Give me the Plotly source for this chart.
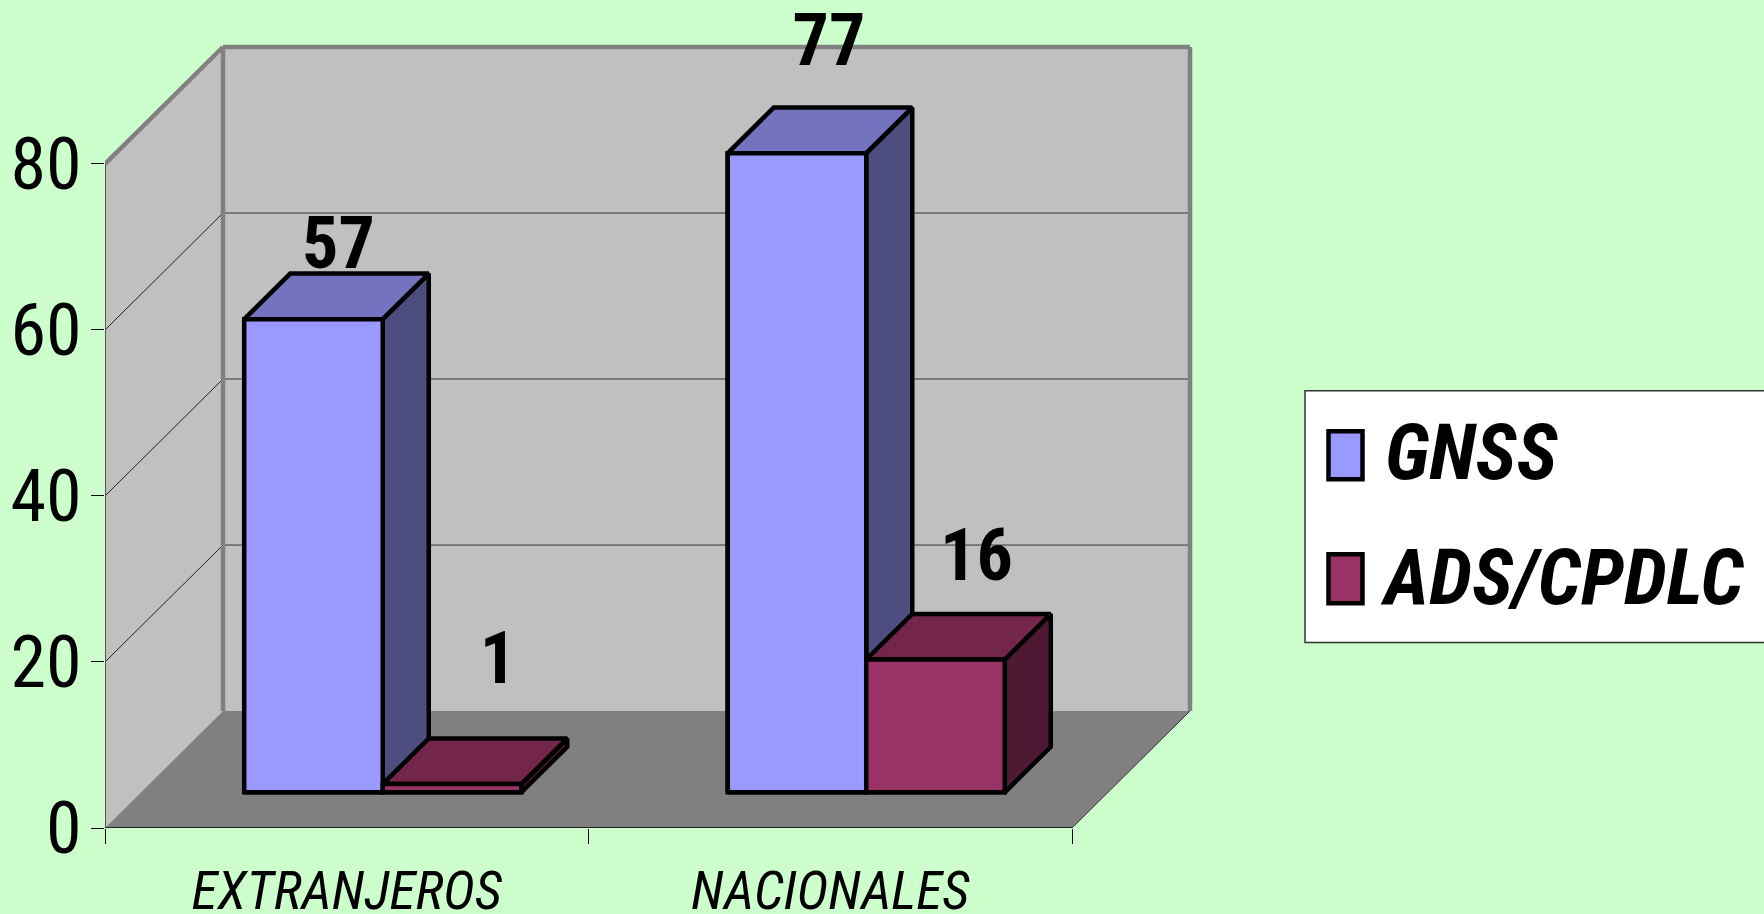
import plotly.graph_objects as go

# ---- data ----
categories = ["EXTRANJEROS", "NACIONALES"]
gnss = [57, 77]
ads = [1, 16]
series_names = ["GNSS", "ADS/CPDLC"]
y_ticks = [0, 20, 40, 60, 80]

# ---- style / layout constants ----
W, H = 1764, 914
X0, Y0 = 105.0, 828.5      # pixel position of the axes origin
CAT_PX, VAL_PX = 483.5, 8.306
DX, DY = 118 / CAT_PX, 117 / VAL_PX   # full chart depth, in axis units
BAR_W = 0.2865
D_FRONT, D_BACK = 0.305, 0.695
NARROW = "Roboto Condensed"
BG, WALL, FLOOR, GRAYLINE = "#CCFFCC", "#C0C0C0", "#808080", "#808080"
COL = {"GNSS": ("#9999FF", "#7373BF", "#4D4D80"), "ADS": ("#993366", "#732649", "#4D1933")}
EDGE = 4.5
# label shift in px from the top of the mid-depth bar
LABEL_SHIFT = {"g0": (2, 46), "a0": (23, 96), "g1": (9, 83), "a1": (18, 75)}

xmax = (W - X0) / CAT_PX
ymax = Y0 / VAL_PX


def path(pts):
    return "M" + " L".join(f"{x:.5f},{y:.5f}" for x, y in pts) + " Z"


def poly(pts, fill, line="rgba(0,0,0,0)", width=0):
    return dict(type="path", xref="x", yref="y", path=path(pts), fillcolor=fill,
                line=dict(color=line, width=width), layer="below")


def seg(x0, y0, x1, y1, color="#000000", width=1):
    return dict(type="line", xref="x", yref="y", x0=x0, y0=y0, x1=x1, y1=y1,
                line=dict(color=color, width=width), layer="below")


top = y_ticks[-1]
shapes = [
    poly([(0, 0), (0, top), (DX, top + DY), (DX, DY)], WALL),
    poly([(DX, DY), (DX, top + DY), (2 + DX, top + DY), (2 + DX, DY)], WALL),
]
for v in y_ticks[1:-1]:
    shapes.append(seg(0, v, DX, v + DY, "#222222", 1))
    shapes.append(seg(DX, v + DY, 2 + DX, v + DY, "#333333", 1))
shapes += [
    seg(0, top, DX, top + DY, GRAYLINE, 4.5),
    seg(DX, DY, DX, top + DY, GRAYLINE, 4.5),
    seg(DX, top + DY, 2 + DX, top + DY, GRAYLINE, 4.5),
    seg(2 + DX, DY, 2 + DX, top + DY, GRAYLINE, 4.5),
    poly([(0, 0), (DX, DY), (2 + DX, DY), (2, 0)], FLOOR),
    seg(2, 0, 2 + DX, DY, "#333333", 1),
    seg(0, 0, 0, top, "#555555", 2),
    seg(0, 0, 2, 0, "#222222", 2),
]


def px(x):
    return (x - X0) / (W - X0)


def py(y):
    return (Y0 - y) / Y0


def rect(x0, y0, x1, y1, fill, line, width):
    return dict(type="rect", xref="paper", yref="paper", x0=px(x0), x1=px(x1), y0=py(y0), y1=py(y1),
                fillcolor=fill, line=dict(color=line, width=width), layer="above")


shapes += [
    rect(1305, 391, 1790, 643, "#FFFFFF", "#333333", 1.5),
    rect(1328.5, 431.5, 1362.5, 479.5, COL["GNSS"][0], "#000000", EDGE),
    rect(1328.5, 554.5, 1362.5, 603.5, COL["ADS"][0], "#000000", EDGE),
]

fig = go.Figure()

# front faces (bars)
for name, vals, key, off in [(series_names[0], gnss, "GNSS", -BAR_W), (series_names[1], ads, "ADS", 0)]:
    fig.add_trace(go.Bar(
        x=[i + 0.5 + D_FRONT * DX for i in range(len(categories))],
        y=vals, base=D_FRONT * DY, width=BAR_W, offset=off, name=name,
        marker=dict(color=COL[key][0], line=dict(color="#000000", width=EDGE)),
        showlegend=False, hovertext=categories,
    ))

# value labels go first among the scatter traces: the bar tops hide part of them
for key, vals, off, tag in [("GNSS", gnss, -BAR_W, "g"), ("ADS", ads, 0, "a")]:
    for i, v in enumerate(vals):
        dxp, dyp = LABEL_SHIFT[f"{tag}{i}"]
        xc = i + 0.5 + off + BAR_W / 2 + (D_FRONT + D_BACK) / 2 * DX + dxp / CAT_PX
        yc = v + (D_FRONT + D_BACK) / 2 * DY + dyp / VAL_PX
        fig.add_trace(go.Scatter(
            x=[xc], y=[yc], mode="text", text=[str(v)], textposition="middle center",
            textfont=dict(family=NARROW, size=72, color="#000000", weight="bold"),
            showlegend=False, hoverinfo="skip", cliponaxis=False,
        ))

# side, top and (above the neighbouring bar's side) front faces
for key, vals, off in [("GNSS", gnss, -BAR_W), ("ADS", ads, 0)]:
    for i, v in enumerate(vals):
        c = i + 0.5 + off
        xf0 = c + D_FRONT * DX
        xf1 = xf0 + BAR_W
        dpx = (D_BACK - D_FRONT) * DX
        dpy = (D_BACK - D_FRONT) * DY
        yb = D_FRONT * DY
        yt = yb + v
        top_pts = [(xf0, yt), (xf0 + dpx, yt + dpy), (xf1 + dpx, yt + dpy), (xf1, yt), (xf0, yt)]
        side_pts = [(xf1, yb), (xf1, yt), (xf1 + dpx, yt + dpy), (xf1 + dpx, yb + dpy), (xf1, yb)]
        front_pts = [(xf0, yb), (xf0, yt), (xf1, yt), (xf1, yb), (xf0, yb)]
        for pts, col in [(side_pts, COL[key][2]), (top_pts, COL[key][1]), (front_pts, COL[key][0])]:
            fig.add_trace(go.Scatter(
                x=[p[0] for p in pts], y=[p[1] for p in pts], mode="lines", fill="toself",
                fillcolor=col, line=dict(color="#000000", width=EDGE), showlegend=False, hoverinfo="skip",
            ))

annotations = [
    dict(xref="paper", yref="paper", x=px(1383), y=py(453), xanchor="left", yanchor="middle",
         text=f"<b><i>{series_names[0]}</i></b>", showarrow=False,
         font=dict(family=NARROW, size=78, color="#000000")),
    dict(xref="paper", yref="paper", x=px(1378), y=py(578), xanchor="left", yanchor="middle",
         text=f"<b><i>{series_names[1]}</i></b>", showarrow=False,
         font=dict(family=NARROW, size=78, color="#000000")),
]

fig.update_layout(
    width=W, height=H, autosize=False,
    paper_bgcolor=BG, plot_bgcolor=BG,
    margin=dict(l=X0, r=0, t=0, b=H - Y0, pad=0, autoexpand=False),
    barmode="overlay", showlegend=False,
    shapes=shapes, annotations=annotations,
    xaxis=dict(range=[0, xmax], tickmode="array", tickvals=[0.5, 1.5], ticktext=categories, automargin=False,
               showgrid=False, zeroline=False, showline=False, ticks="", ticklen=0, ticklabelstandoff=26,
               tickfont=dict(family=NARROW, size=54, color="#000000", style="italic"),
               minor=dict(tickmode="array", tickvals=[0, 1, 2], ticks="outside", ticklen=15, tickwidth=1,
                          tickcolor="#000000", showgrid=False)),
    yaxis=dict(range=[0, ymax], tickmode="array", tickvals=y_ticks, automargin=False,
               showgrid=False, zeroline=False, showline=False, ticks="outside", ticklen=13, tickwidth=1,
               tickcolor="#000000", ticklabelstandoff=-5,
               tickfont=dict(family=NARROW, size=72, color="#000000")),
)

fig.write_html("out.html", config={"displayModeBar": False},
               post_script="document.body.style.margin='0';document.body.style.overflow='hidden';")
